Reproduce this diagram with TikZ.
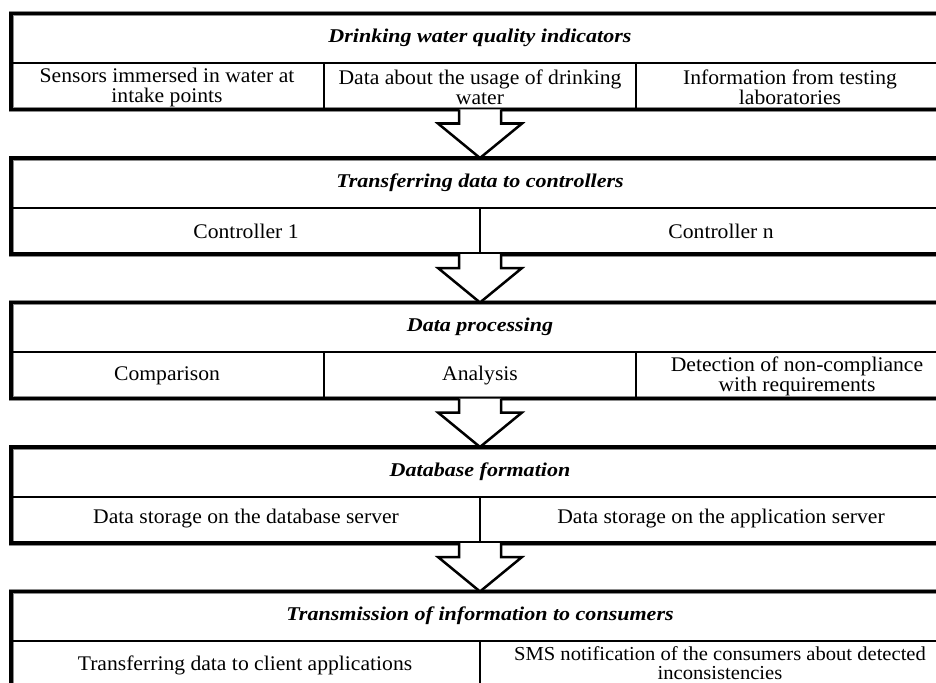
\documentclass[tikz,border=0pt]{standalone}
\usepackage{fontspec}
\setmainfont{Liberation Serif}
\newfontfamily\headfam[FakeStretch=1.13]{Liberation Serif}
\newfontfamily\cellfam[FakeStretch=1.04]{Liberation Serif}
\newcommand\cellfnt{\cellfam\fontsize{20.8}{20}\selectfont}
\newcommand\smsfnt{\cellfam\fontsize{19.8}{18.5}\selectfont}
\newcommand\headfnt{\headfam\fontsize{19.5}{20}\selectfont\bfseries\itshape}
\tikzset{
  blockframe/.style={draw, line width=3.2pt, preaction={draw=black!45, line width=5pt},
    minimum width=938pt, minimum height=96pt, inner sep=0pt, outer sep=0pt, anchor=north west},
  headtext/.style={font=\headfnt, inner sep=0pt, anchor=center},
  celltext/.style={font=\cellfnt, align=center, inner sep=0pt, anchor=center},
  divider/.style={line width=2pt},
  flowarrow/.style={draw, fill=white, line width=2.5pt, line join=miter}
}
\begin{document}
\begin{tikzpicture}[x=1pt,y=-1pt]
\useasboundingbox (0,0) rectangle (936,682);
\clip (0,0) rectangle (936,682);

% blocks
\node[blockframe] (b1) at (11,13.5) {};
\node[blockframe] (b2) at (11,158) {};
\node[blockframe] (b3) at (11,302.5) {};
\node[blockframe] (b4) at (11,447) {};
\node[blockframe] (b5) at (11,591.5) {};

% header dividers
\foreach \b in {b1,b2,b3,b4,b5}{
  \draw[divider] ([yshift=-49.5pt]\b.north west) -- ([yshift=-49.5pt]\b.north east);
}
% column dividers
\foreach \b in {b1,b3}{
  \draw[divider] ([xshift=313pt,yshift=-49.5pt]\b.north west) -- ([xshift=313pt]\b.south west);
  \draw[divider] ([xshift=625pt,yshift=-49.5pt]\b.north west) -- ([xshift=625pt]\b.south west);
}
\foreach \b in {b2,b4,b5}{
  \draw[divider] ([xshift=469pt,yshift=-49.5pt]\b.north west) -- ([xshift=469pt]\b.south west);
}

% block arrows
\foreach \a/\b in {b1/b2,b2/b3,b3/b4,b4/b5}{
  \draw[flowarrow]
    ([xshift=-21pt]\a.south) -- ([xshift=-21pt,yshift=-14pt]\a.south)
    -- ([xshift=-42pt,yshift=-14pt]\a.south) -- (\b.north)
    -- ([xshift=42pt,yshift=-14pt]\a.south) -- ([xshift=21pt,yshift=-14pt]\a.south)
    -- ([xshift=21pt]\a.south);
}

% block 1
\node[headtext] (h1) at (480,38) {Drinking water quality indicators};
\node[celltext] (c11) at (167,87) {Sensors immersed in water at\\intake points};
\node[celltext] (c12) at (480,87) {Data about the usage of drinking\\water};
\node[celltext] (c13) at (790,87) {Information from testing\\laboratories};

% block 2
\node[headtext] (h2) at (480,183) {Transferring data to controllers};
\node[celltext] (c21) at (246,231) {Controller 1};
\node[celltext] (c22) at (721,231) {Controller n};

% block 3
\node[headtext] (h3) at (480,327) {Data processing};
\node[celltext] (c31) at (167,376) {Comparison};
\node[celltext] (c32) at (480,376) {Analysis};
\node[celltext] (c33) at (797,376) {Detection of non-compliance\\with requirements};

% block 4
\node[headtext] (h4) at (480,471.5) {Database formation};
\node[celltext] (c41) at (246,519) {Data storage on the database server};
\node[celltext] (c42) at (721,519) {Data storage on the application server};

% block 5
\node[headtext] (h5) at (480,616) {Transmission of information to consumers};
\node[celltext] (c51) at (245,665) {Transferring data to client applications};
\node[celltext, font=\smsfnt] (c52) at (720,663) {SMS notification of the consumers about detected\\inconsistencies};
\end{tikzpicture}
\end{document}
